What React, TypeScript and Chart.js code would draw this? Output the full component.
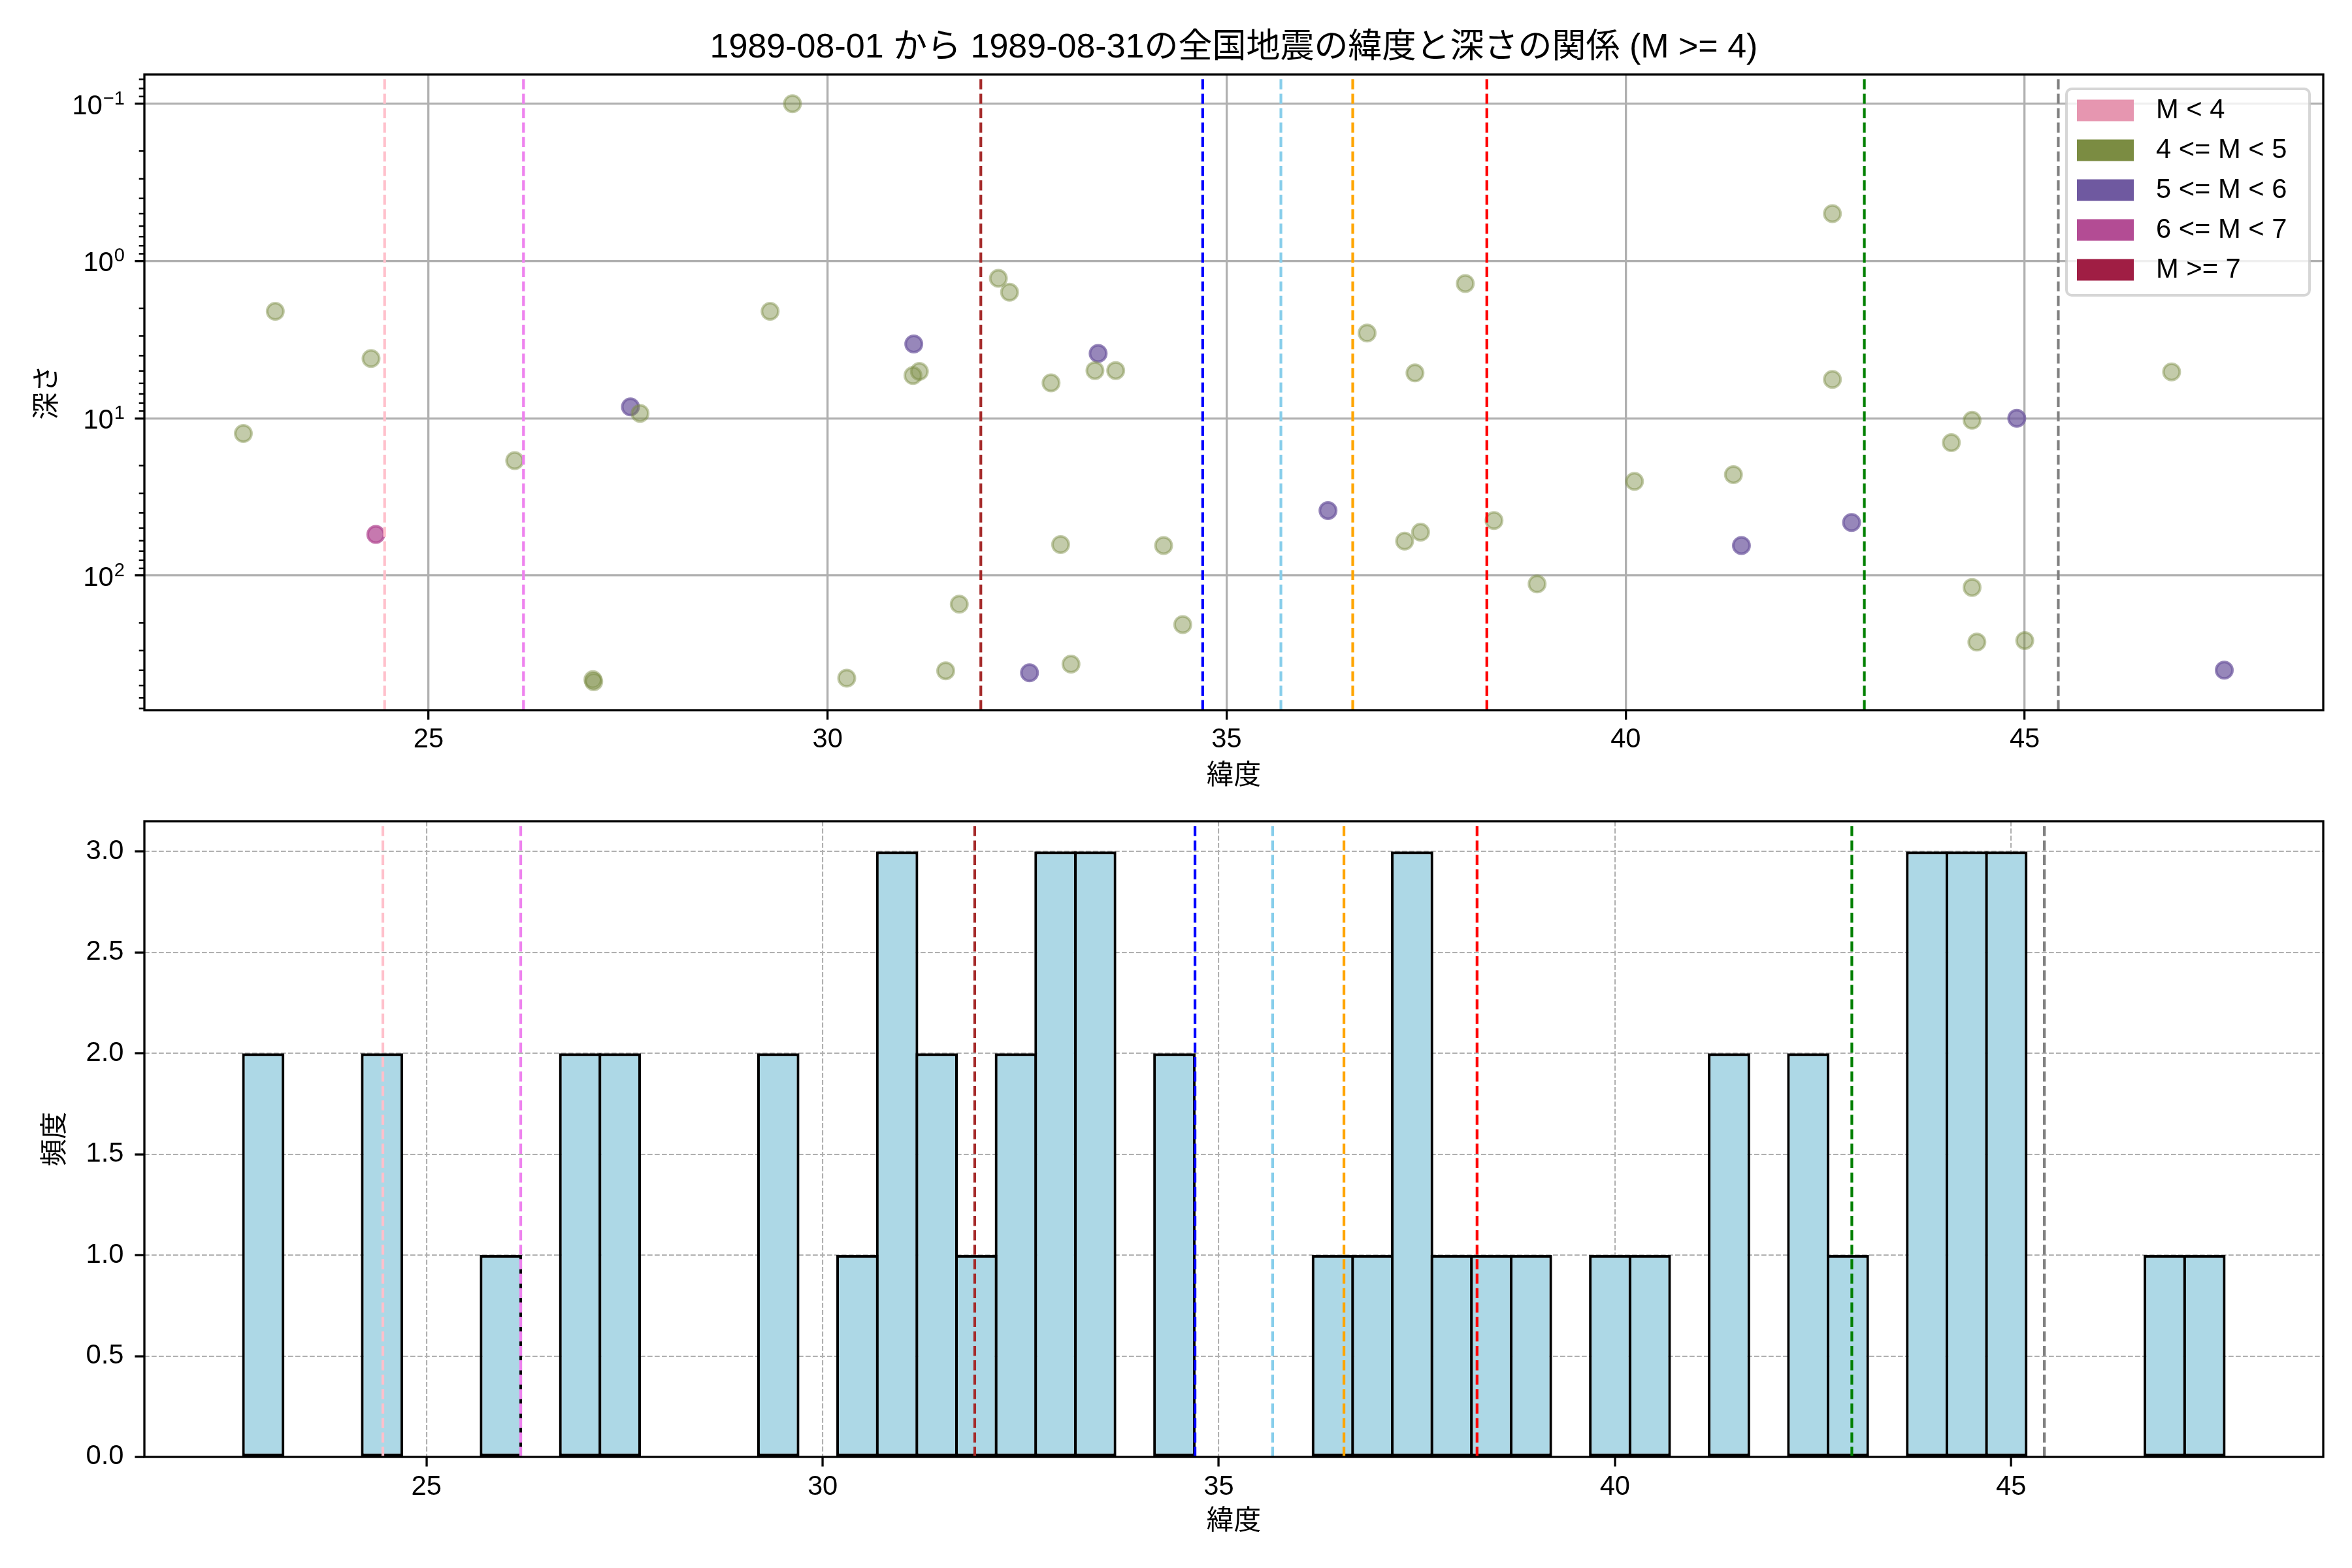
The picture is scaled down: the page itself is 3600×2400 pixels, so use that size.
import React, { useEffect, useRef } from 'react';
import { Chart, registerables } from 'chart.js';
Chart.register(...registerables);

const FONT = "'Liberation Sans', 'Noto Sans CJK JP', sans-serif";

// ---- text ----
const titleText = '1989-08-01 から 1989-08-31の全国地震の緯度と深さの関係 (M >= 4)';
const xLabel = '緯度';
const yLabelTop = '深さ';
const yLabelBottom = '頻度';

// ---- ticks ----
const latTicks = [25, 30, 35, 40, 45];
const depthTicks = [0.1, 1, 10, 100];
const depthTickExp = ['\u22121', '0', '1', '2'];
const countTicks = [0, 0.5, 1, 1.5, 2, 2.5, 3];

// ---- scatter data (latitude, depth) ----
const m4Lat = [22.68, 23.08, 24.28, 26.08, 27.06, 27.07, 27.65, 29.28, 29.56, 30.24,
  31.07, 31.15, 31.48, 31.65, 32.14, 32.28, 32.80, 32.92, 33.05, 33.35,
  33.61, 34.21, 34.45, 36.76, 37.23, 37.36, 37.43, 37.99, 38.35, 38.89,
  40.11, 41.35, 42.59, 42.59, 44.08, 44.34, 44.34, 44.40, 45.00, 46.84];
const m4Depth = [12.5, 2.09, 4.17, 18.6, 459, 473, 9.3, 2.09, 0.1, 449,
  5.35, 5.04, 403, 152, 1.29, 1.58, 5.96, 63.5, 366, 4.97,
  4.97, 64.4, 205, 2.87, 60.4, 5.15, 53.0, 1.39, 44.7, 113,
  25.2, 22.8, 0.50, 5.66, 14.3, 10.3, 119, 265, 259, 5.07];
const m5Lat = [27.53, 31.08, 32.53, 33.39, 36.27, 41.45, 42.83, 44.90, 47.50];
const m5Depth = [8.47, 3.37, 415, 3.87, 38.6, 64.4, 46.0, 10.0, 400];
const m6Lat = [24.34];
const m6Depth = [54.8];

// ---- legend ----
const legendLabels = ['M < 4', '4 <= M < 5', '5 <= M < 6', '6 <= M < 7', 'M >= 7'];
const legendColors = ['#e696b0', '#7b8c42', '#6f59a0', '#b34c94', '#a01e44'];

// ---- reference latitude lines ----
const refLat = [24.45, 26.19, 31.92, 34.70, 35.68, 36.58, 38.26, 42.99, 45.42];
const refColors = ['pink', 'violet', 'brown', 'blue', 'skyblue', 'orange', 'red', 'green', 'gray'];

// ---- histogram ----
const histStart = 22.69;
const histWidth = 0.5;
const histCounts = [2, 0, 0, 2, 0, 0, 1, 0, 2, 2,
  0, 0, 0, 2, 0, 1, 3, 2, 1, 2,
  3, 3, 0, 2, 0, 0, 0, 1, 1, 3,
  1, 1, 1, 0, 1, 1, 0, 2, 0, 2,
  1, 0, 3, 3, 3, 0, 0, 0, 1, 1];

// ---- axis limits ----
const topXMin = 21.44, topXMax = 48.74;
const topYMin = Math.pow(10, -1.186), topYMax = Math.pow(10, 2.856);
const botXMin = 21.44, botXMax = 48.94;
const botYMin = 0, botYMax = 3.15;

function rgba(hex: string, a: number) {
  const n = parseInt(hex.slice(1), 16);
  return `rgba(${(n >> 16) & 255},${(n >> 8) & 255},${n & 255},${a})`;
}

function drawRefLines(chart: any) {
  const { ctx, chartArea: a, scales } = chart;
  const xs = scales.x;
  ctx.save();
  ctx.beginPath();
  ctx.rect(a.left, a.top, a.right - a.left, a.bottom - a.top);
  ctx.clip();
  ctx.lineWidth = 4.2;
  ctx.setLineDash([15.4, 6.7]);
  refLat.forEach((lat, i) => {
    const px = xs.getPixelForValue(lat);
    ctx.strokeStyle = refColors[i];
    ctx.beginPath();
    ctx.moveTo(px, a.bottom);
    ctx.lineTo(px, a.top);
    ctx.stroke();
  });
  ctx.restore();
}

function drawFrame(chart: any) {
  const { ctx, chartArea: a } = chart;
  ctx.save();
  ctx.setLineDash([]);
  ctx.strokeStyle = '#000';
  ctx.lineWidth = 3.3;
  ctx.strokeRect(a.left, a.top, a.right - a.left, a.bottom - a.top);
  ctx.restore();
}

const topDecor = {
  id: 'topDecor',
  afterDatasetsDraw(chart: any) {
    drawRefLines(chart);
  },
  afterDraw(chart: any) {
    const { ctx, chartArea: a, scales } = chart;
    const y = scales.y;
    ctx.save();
    // minor ticks of the log axis
    ctx.strokeStyle = '#000';
    ctx.lineWidth = 2.5;
    ctx.setLineDash([]);
    for (let e = -2; e <= 2; e++) {
      for (let k = 2; k <= 9; k++) {
        const v = k * Math.pow(10, e);
        if (v < y.min || v > y.max) continue;
        const py = y.getPixelForValue(v);
        ctx.beginPath();
        ctx.moveTo(a.left - 8.3, py);
        ctx.lineTo(a.left, py);
        ctx.stroke();
      }
    }
    // major tick labels 10^n
    ctx.fillStyle = '#000';
    ctx.textAlign = 'right';
    ctx.textBaseline = 'alphabetic';
    depthTicks.forEach((v, i) => {
      const py = y.getPixelForValue(v);
      const xr = a.left - 30;
      ctx.font = `29px ${FONT}`;
      const ew = ctx.measureText(depthTickExp[i]).width;
      ctx.fillText(depthTickExp[i], xr, py + 1);
      ctx.font = `42px ${FONT}`;
      ctx.fillText('10', xr - ew - 1, py + 16);
    });
    ctx.restore();

    drawFrame(chart);

    // legend
    ctx.save();
    const bw = 372, bh = 316;
    const bx = a.right - 21 - bw;
    const by = a.top + 22;
    ctx.beginPath();
    (ctx as any).roundRect(bx, by, bw, bh, 8);
    ctx.fillStyle = 'rgba(255,255,255,0.8)';
    ctx.fill();
    ctx.strokeStyle = 'rgba(204,204,204,0.8)';
    ctx.lineWidth = 4;
    ctx.stroke();
    ctx.font = `41.7px ${FONT}`;
    ctx.textAlign = 'left';
    ctx.textBaseline = 'middle';
    legendLabels.forEach((lab, i) => {
      const cy = by + 33 + i * 61;
      ctx.fillStyle = legendColors[i];
      ctx.fillRect(bx + 16, cy - 16.5, 87, 33);
      ctx.fillStyle = '#000';
      ctx.fillText(lab, bx + 137, cy + 1);
    });
    ctx.restore();
  },
};

const bottomDecor = {
  id: 'bottomDecor',
  afterDatasetsDraw(chart: any) {
    drawRefLines(chart);
  },
  afterDraw(chart: any) {
    drawFrame(chart);
  },
};

function zeroPad(scale: any) {
  scale.paddingTop = 0;
  scale.paddingBottom = 0;
  scale.paddingLeft = 0;
  scale.paddingRight = 0;
}

const tickFont = { size: 41.7, family: FONT };
const labelFont = { size: 41.7, family: FONT };

function TopChart() {
  const ref = useRef<HTMLCanvasElement>(null);
  useEffect(() => {
    const toPts = (xs: number[], ys: number[]) => xs.map((x, i) => ({ x, y: ys[i] }));
    const chart = new Chart(ref.current!, {
      type: 'scatter',
      data: {
        datasets: [
          {
            label: legendLabels[1],
            data: toPts(m4Lat, m4Depth),
            backgroundColor: rgba(legendColors[1], 0.45),
            borderColor: rgba(legendColors[1], 0.45),
            borderWidth: 4,
            pointRadius: 12.5,
          },
          {
            label: legendLabels[2],
            data: toPts(m5Lat, m5Depth),
            backgroundColor: rgba(legendColors[2], 0.72),
            borderColor: rgba(legendColors[2], 0.72),
            borderWidth: 4,
            pointRadius: 12.5,
          },
          {
            label: legendLabels[3],
            data: toPts(m6Lat, m6Depth),
            backgroundColor: rgba(legendColors[3], 0.75),
            borderColor: rgba(legendColors[3], 0.75),
            borderWidth: 4,
            pointRadius: 12.5,
          },
        ],
      },
      options: {
        animation: false,
        responsive: false,
        devicePixelRatio: 1,
        layout: { padding: { left: 0, right: 44, top: 0, bottom: 0 } },
        plugins: {
          legend: { display: false },
          tooltip: { enabled: false },
          title: {
            display: true,
            fullSize: false,
            text: titleText,
            color: '#000',
            font: { size: 52, family: FONT, weight: 'normal' },
            padding: { top: 42, bottom: 9.6 },
          },
        },
        scales: {
          x: {
            type: 'linear',
            min: topXMin,
            max: topXMax,
            afterBuildTicks: (s: any) => { s.ticks = latTicks.map((v) => ({ value: v })); },
            afterFit: (s: any) => { s.height = 153; zeroPad(s); },
            ticks: { font: tickFont, color: '#000', padding: 6, maxRotation: 0, callback: (v: any) => String(v) },
            grid: { color: '#b0b0b0', lineWidth: 3.3, tickColor: '#000', tickWidth: 3.3, tickLength: 14.6 },
            border: { display: false },
            title: { display: true, text: xLabel, color: '#000', font: labelFont, padding: { top: 0, bottom: 26 } },
          },
          y: {
            type: 'logarithmic',
            reverse: true,
            min: topYMin,
            max: topYMax,
            afterBuildTicks: (s: any) => { s.ticks = depthTicks.map((v) => ({ value: v, major: true })); },
            afterFit: (s: any) => { s.width = 221; zeroPad(s); },
            ticks: { display: false },
            grid: { color: '#b0b0b0', lineWidth: 3.3, tickColor: '#000', tickWidth: 3.3, tickLength: 14.6 },
            border: { display: false },
            title: { display: true, text: yLabelTop, color: '#000', font: labelFont, padding: { top: 48, bottom: 0 } },
          },
        },
      } as any,
      plugins: [topDecor],
    });
    return () => chart.destroy();
  }, []);
  return (
    <canvas
      ref={ref}
      width={3600}
      height={1240}
      style={{ position: 'absolute', left: 0, top: 0, width: 3600, height: 1240 }}
    />
  );
}

function BottomChart() {
  const ref = useRef<HTMLCanvasElement>(null);
  useEffect(() => {
    const bars = histCounts.map((c, i) => ({ x: histStart + histWidth * (i + 0.5), y: c > 0 ? c : null }));
    const chart = new Chart(ref.current!, {
      type: 'bar',
      data: {
        datasets: [
          {
            data: bars as any,
            backgroundColor: '#add8e6',
            borderColor: '#000',
            borderWidth: 4.2,
            borderSkipped: false,
            barPercentage: 1.069,
            categoryPercentage: 1,
          },
        ],
      },
      options: {
        animation: false,
        responsive: false,
        devicePixelRatio: 1,
        layout: { padding: { left: 0, right: 44, top: 17, bottom: 0 } },
        plugins: {
          legend: { display: false },
          tooltip: { enabled: false },
          title: { display: false },
        },
        scales: {
          x: {
            type: 'linear',
            offset: false,
            min: botXMin,
            max: botXMax,
            afterBuildTicks: (s: any) => { s.ticks = latTicks.map((v) => ({ value: v })); },
            afterFit: (s: any) => { s.height = 170; zeroPad(s); },
            ticks: { font: tickFont, color: '#000', padding: 7, maxRotation: 0, callback: (v: any) => String(v) },
            grid: { offset: false, color: '#b0b0b0', lineWidth: 2.1, tickColor: '#000', tickWidth: 3.3, tickLength: 14.6 },
            border: { display: false, dash: [7.7, 3.3] },
            title: { display: true, text: xLabel, color: '#000', font: labelFont, padding: { top: 0, bottom: 45 } },
          },
          y: {
            type: 'linear',
            min: botYMin,
            max: botYMax,
            afterBuildTicks: (s: any) => { s.ticks = countTicks.map((v) => ({ value: v })); },
            afterFit: (s: any) => { s.width = 221; zeroPad(s); },
            ticks: { font: tickFont, color: '#000', padding: 17, callback: (v: any) => Number(v).toFixed(1) },
            grid: { color: '#b0b0b0', lineWidth: 2.1, tickColor: '#000', tickWidth: 3.3, tickLength: 14.6 },
            border: { display: false, dash: [7.7, 3.3] },
            title: { display: true, text: yLabelBottom, color: '#000', font: labelFont, padding: { top: 60, bottom: 0 } },
          },
        },
      } as any,
      plugins: [bottomDecor],
    });
    return () => chart.destroy();
  }, []);
  return (
    <canvas
      ref={ref}
      width={3600}
      height={1160}
      style={{ position: 'absolute', left: 0, top: 1240, width: 3600, height: 1160 }}
    />
  );
}

export default function App() {
  useEffect(() => {
    document.body.style.margin = '0';
  }, []);
  return (
    <div style={{ position: 'relative', width: 3600, height: 2400, background: '#fff', overflow: 'hidden' }}>
      <TopChart />
      <BottomChart />
    </div>
  );
}
